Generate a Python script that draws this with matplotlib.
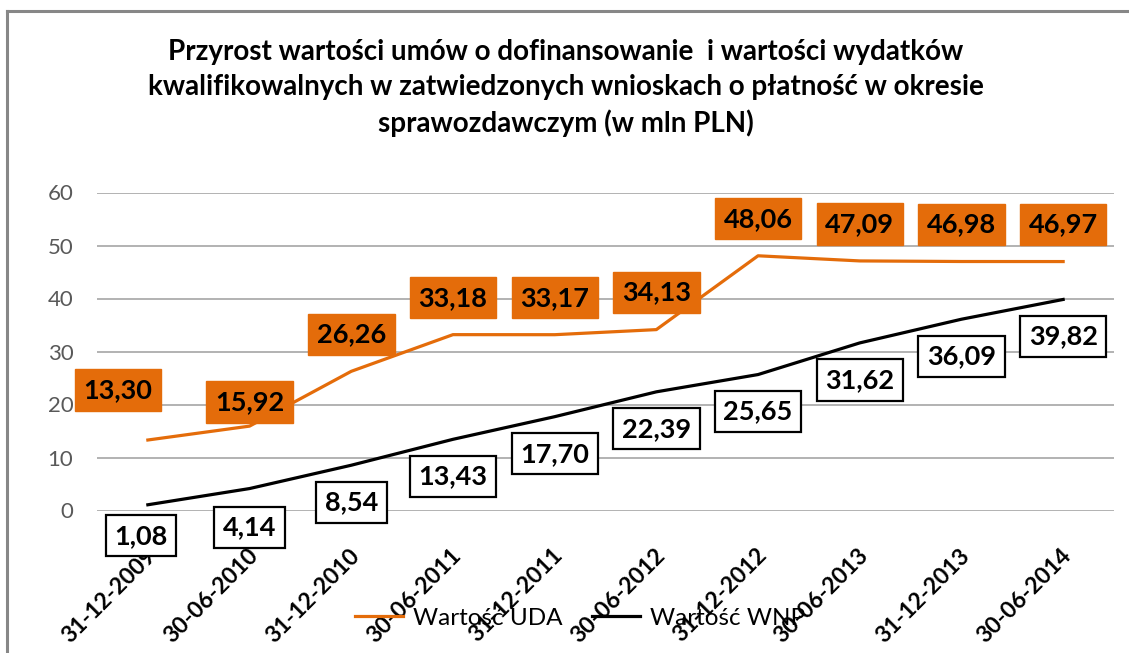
import numpy as np
import matplotlib.pyplot as plt
from matplotlib.lines import Line2D
from matplotlib.transforms import ScaledTranslation

plt.rcParams['font.family'] = ['Lato', 'DejaVu Sans']

#%% data
dates = ['31-12-2009', '30-06-2010', '31-12-2010', '30-06-2011', '31-12-2011',
         '30-06-2012', '31-12-2012', '30-06-2013', '31-12-2013', '30-06-2014']
uda = [13.30, 15.92, 26.26, 33.18, 33.17, 34.13, 48.06, 47.09, 46.98, 46.97]
wnp = [1.08, 4.14, 8.54, 13.43, 17.70, 22.39, 25.65, 31.62, 36.09, 39.82]

# where the data labels sit, pixels from the point (moved by hand in the original)
uda_off = [(-30, 50), (0, 24)] + [(0, 37)] * 8
wnp_off = [(-7, -31), (0, -39)] + [(0, -37)] * 8

orange = '#E46C0A'
grid_c = '#A6A6A6'

#%% figure
fig = plt.figure(figsize=(11.29, 6.53), dpi=100)
ax = fig.add_axes([97 / 1129, 1 - 510.5 / 653, (1114 - 97) / 1129, (510.5 - 192.5) / 653])

x = np.arange(len(dates))
ax.plot(x, uda, color=orange, lw=2.3, label='Wartość UDA', zorder=3)
ax.plot(x, wnp, color='black', lw=2.3, label='Wartość WNP', zorder=3)

ax.set_xlim(-0.5, len(dates) - 0.5)
ax.set_ylim(0, 60)
ax.set_yticks(np.arange(0, 61, 10))
ax.grid(axis='y', color=grid_c, lw=1.2)
ax.set_axisbelow(True)
for s in ax.spines.values():
    s.set_visible(False)
ax.tick_params(axis='both', length=0)
ax.tick_params(axis='y', labelsize=16, labelcolor='#595959', pad=17)

ax.set_xticks(x)
ax.set_xticklabels(dates, rotation=45, ha='right', va='center',
                   rotation_mode='anchor', fontsize=16.5, fontweight='bold')
ax.tick_params(axis='x', pad=30)
shift = ScaledTranslation(5 / 100, 0, fig.dpi_scale_trans)
for lab in ax.get_xticklabels():
    lab.set_transform(lab.get_transform() + shift)

# data labels
def fmt(v):
    return f'{v:.2f}'.replace('.', ',')

for i, v in enumerate(uda):
    ax.annotate(fmt(v), (x[i], v), xytext=uda_off[i], textcoords='offset pixels',
                ha='center', va='center', fontsize=19.5, fontweight='bold', zorder=5,
                bbox=dict(boxstyle='square,pad=0.32', fc=orange, ec=orange, lw=1))
for i, v in enumerate(wnp):
    ax.annotate(fmt(v), (x[i], v), xytext=wnp_off[i], textcoords='offset pixels',
                ha='center', va='center', fontsize=19.5, fontweight='bold', zorder=5,
                bbox=dict(boxstyle='square,pad=0.32', fc='white', ec='black', lw=1.6))

# title
fig.text(0.501, 1 - 88 / 653,
         'Przyrost wartości umów o dofinansowanie  i wartości wydatków\n'
         'kwalifikowalnych w zatwiedzonych wnioskach o płatność w okresie\n'
         'sprawozdawczym (w mln PLN)',
         ha='center', va='center', fontsize=20, fontweight='bold', linespacing=1.4)

# legend
fig.legend(loc='center', bbox_to_anchor=(580 / 1129, 1 - 618 / 653), ncol=2,
           frameon=False, fontsize=17.5, handlelength=2.0, handletextpad=0.4,
           columnspacing=1.2)

# outer chart frame (only top and left visible)
fig.add_artist(Line2D([7 / 1129, 1], [1 - 11 / 653, 1 - 11 / 653], color='#878787', lw=2.2))
fig.add_artist(Line2D([7 / 1129, 7 / 1129], [0, 1 - 11 / 653], color='#878787', lw=2.2))

fig.savefig('out.png', dpi=100)
